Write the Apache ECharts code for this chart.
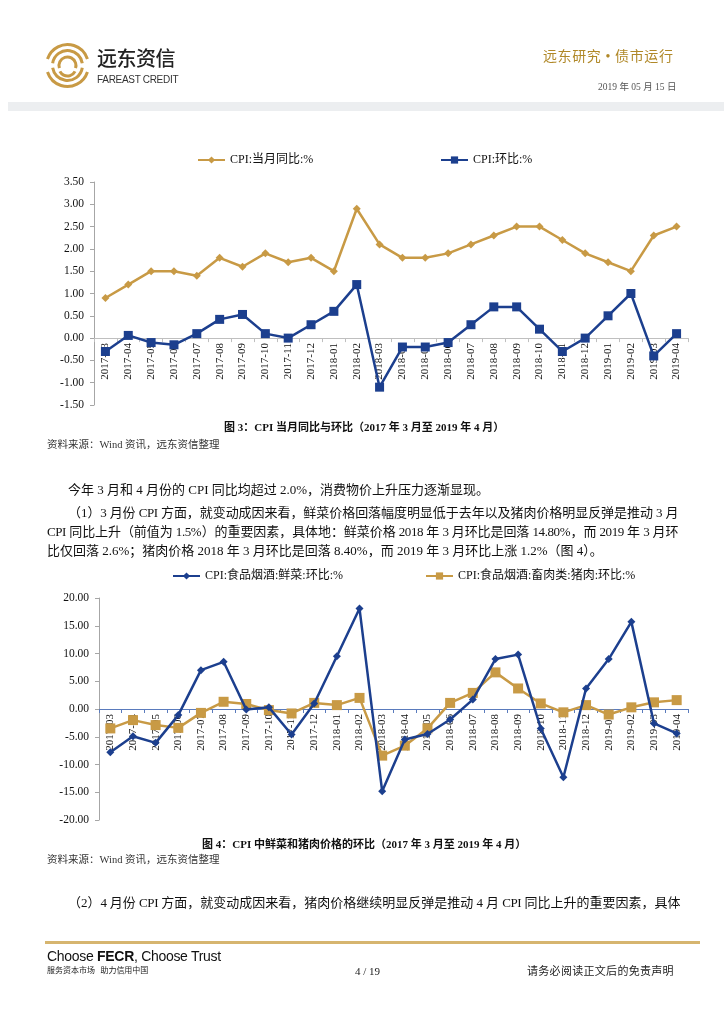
<!DOCTYPE html>
<html><head><meta charset="utf-8">
<script src="https://cdn.jsdelivr.net/npm/echarts@6/dist/echarts.min.js"></script>
<style>
html,body{margin:0;padding:0;background:#fff;}
#page{position:relative;width:724px;height:1024px;overflow:hidden;font-family:"Liberation Serif","Noto Sans CJK SC",serif;color:#111;}
#chart{position:absolute;left:0;top:0;width:724px;height:1024px;}
.t{position:absolute;white-space:nowrap;line-height:1;}
.j{text-align:justify;text-align-last:justify;white-space:normal;letter-spacing:-0.4px;height:14px;overflow:visible;}
</style></head>
<body><div id="page">
<div id="chart"></div>
<div style="position:absolute;left:8px;top:102px;width:716px;height:9px;background:#eceef0;"></div>
<div class="t" style="left:97px;top:48px;font-family:'Noto Sans CJK SC';font-size:20px;font-weight:500;color:#222;letter-spacing:-0.5px;">远东资信</div>
<div class="t" style="left:97px;top:75px;font-family:'Liberation Sans';font-size:10px;color:#333;letter-spacing:-0.3px;">FAREAST CREDIT</div>
<div class="t" style="left:543px;top:50px;font-size:14px;color:#b08828;letter-spacing:0.6px;">远东研究 • 债市运行</div>
<div class="t" style="left:598px;top:83px;font-size:9.5px;color:#555;">2019 年 05 月 15 日</div>

<div class="t" style="left:224px;top:422px;font-size:11px;font-weight:bold;">图 3：CPI 当月同比与环比（2017 年 3 月至 2019 年 4 月）</div>
<div class="t" style="left:47px;top:440px;font-size:10.5px;color:#333;">资料来源：Wind 资讯，远东资信整理</div>

<div class="t" style="left:68px;top:483px;font-size:13px;">今年 3 月和 4 月份的 CPI 同比均超过 2.0%，消费物价上升压力逐渐显现。</div>
<div class="t j" style="left:68px;top:506px;width:610px;font-size:13px;">（1）3 月份 CPI 方面，就变动成因来看，鲜菜价格回落幅度明显低于去年以及猪肉价格明显反弹是推动 3 月</div>
<div class="t j" style="left:47px;top:525px;width:631px;font-size:13px;">CPI 同比上升（前值为 1.5%）的重要因素，具体地：鲜菜价格 2018 年 3 月环比是回落 14.80%，而 2019 年 3 月环</div>
<div class="t" style="left:47px;top:544px;font-size:13px;">比仅回落 2.6%；猪肉价格 2018 年 3 月环比是回落 8.40%，而 2019 年 3 月环比上涨 1.2%（图 4）。</div>

<div class="t" style="left:202px;top:839px;font-size:11px;font-weight:bold;">图 4：CPI 中鲜菜和猪肉价格的环比（2017 年 3 月至 2019 年 4 月）</div>
<div class="t" style="left:47px;top:855px;font-size:10.5px;color:#333;">资料来源：Wind 资讯，远东资信整理</div>
<div class="t j" style="left:68px;top:896px;width:612px;font-size:13px;">（2）4 月份 CPI 方面，就变动成因来看，猪肉价格继续明显反弹是推动 4 月 CPI 同比上升的重要因素，具体</div>

<div style="position:absolute;left:45px;top:941px;width:655px;height:3px;background:#d6b56f;"></div>
<div class="t" style="left:47px;top:949px;font-family:'Liberation Sans';font-size:14px;color:#111;letter-spacing:-0.3px;">Choose <b>FECR</b>, Choose Trust</div>
<div class="t" style="left:47px;top:966px;font-family:'Noto Sans CJK SC';font-size:8px;color:#222;">服务资本市场&nbsp;&nbsp;&nbsp;助力信用中国</div>
<div class="t" style="left:355px;top:966px;font-size:11px;color:#222;">4 / 19</div>
<div class="t" style="left:527px;top:966px;font-size:11px;color:#222;letter-spacing:0.3px;">请务必阅读正文后的免责声明</div>
</div>
<script>
var categories = ['2017-03','2017-04','2017-05','2017-06','2017-07','2017-08','2017-09','2017-10','2017-11','2017-12',
  '2018-01','2018-02','2018-03','2018-04','2018-05','2018-06','2018-07','2018-08','2018-09','2018-10','2018-11','2018-12',
  '2019-01','2019-02','2019-03','2019-04'];
var cpiYoY = [0.9,1.2,1.5,1.5,1.4,1.8,1.6,1.9,1.7,1.8,1.5,2.9,2.1,1.8,1.8,1.9,2.1,2.3,2.5,2.5,2.2,1.9,1.7,1.5,2.3,2.5];
var cpiMoM = [-0.3,0.06,-0.1,-0.15,0.1,0.42,0.53,0.1,0.0,0.3,0.6,1.2,-1.1,-0.2,-0.2,-0.1,0.3,0.7,0.7,0.2,-0.3,0.0,0.5,1.0,-0.4,0.1];
var vegMoM = [-7.8,-4.9,-6.1,-1.1,7.0,8.5,-0.1,0.3,-4.6,1.0,9.5,18.1,-14.8,-5.5,-4.5,-1.9,1.7,9.0,9.8,-3.5,-12.3,3.7,9.0,15.7,-2.6,-4.4];
var porkMoM = [-3.5,-2.0,-2.9,-3.4,-0.7,1.3,0.9,-0.2,-0.8,1.1,0.7,2.0,-8.4,-6.6,-3.5,1.1,2.9,6.6,3.7,1.0,-0.6,0.7,-1.0,0.3,1.2,1.6];
var names = ['CPI:当月同比:%','CPI:环比:%','CPI:食品烟酒:鲜菜:环比:%','CPI:食品烟酒:畜肉类:猪肉:环比:%'];

var GOLD = '#c89a45', BLUE = '#1c3f8e';
var FONT = '"Liberation Serif","Noto Sans CJK SC",serif';
var chart = echarts.init(document.getElementById('chart'), null, {renderer:'canvas'});

var G1 = {left:94, right:36, top:182, height:223}, G2 = {left:99, right:36, top:598, height:222};
var Y1 = {min:-1.5, max:3.5, itv:0.5}, Y2 = {min:-20, max:20, itv:5};
function zeroOffset(g, y){ return -g.height * (0 - y.min) / (y.max - y.min); }

function xAx(gi, lineColor, off){
  return {type:'category', gridIndex:gi, data:categories, boundaryGap:true, position:'bottom', offset:off,
    axisLine:{onZero:false, lineStyle:{color:lineColor, width:1.2}},
    axisTick:{show:true, length:4, lineStyle:{color:lineColor}},
    axisLabel:{rotate:90, interval:0, margin:5, fontFamily:FONT, fontSize:11, color:'#111'},
    splitLine:{show:false}};
}
function yAx(gi, y){
  return {type:'value', gridIndex:gi, min:y.min, max:y.max, interval:y.itv,
    axisLine:{show:true, lineStyle:{color:'#a6a6a6'}},
    axisTick:{show:true, length:4, lineStyle:{color:'#a6a6a6'}},
    axisLabel:{margin:10, fontFamily:FONT, fontSize:11.5, color:'#111', formatter:function(v){return v.toFixed(2);}},
    splitLine:{show:false}};
}
function leg(name, left, top){
  return {data:[name], left:left, top:top, itemWidth:27, itemHeight:9, padding:0,
    textStyle:{fontFamily:FONT, fontSize:12, color:'#111'}};
}
function ser(name, data, xi, color, sym, size, z){
  return {name:name, type:'line', xAxisIndex:xi, yAxisIndex:xi, data:data, symbol:sym, symbolSize:size,
    lineStyle:{color:color, width:2.5}, itemStyle:{color:color}, z:z};
}

var option = {
  animation:false,
  legend:[leg(names[0],197,154), leg(names[1],440,154), leg(names[2],172,570), leg(names[3],425,570)],
  grid:[G1, G2],
  xAxis:[xAx(0,'#bfbfbf', zeroOffset(G1,Y1)), xAx(1,'#5a7bbd', zeroOffset(G2,Y2))],
  yAxis:[yAx(0,Y1), yAx(1,Y2)],
  series:[
    ser(names[0], cpiYoY, 0, GOLD, 'diamond', 8, 3),
    ser(names[1], cpiMoM, 0, BLUE, 'rect', 9, 4),
    ser(names[2], vegMoM, 1, BLUE, 'diamond', 8, 4),
    ser(names[3], porkMoM, 1, GOLD, 'rect', 10, 3)
  ],
  graphic:[
    {type:'group', left:45, top:42, children:[
      {type:'arc', shape:{cx:22, cy:22, r:21, startAngle:Math.PI*1.1, endAngle:Math.PI*1.9}, style:{stroke:'#c89a45', lineWidth:3, fill:null}},
      {type:'arc', shape:{cx:22, cy:22, r:21, startAngle:Math.PI*0.1, endAngle:Math.PI*0.9}, style:{stroke:'#c89a45', lineWidth:3, fill:null}},
      {type:'arc', shape:{cx:22, cy:22, r:15, startAngle:Math.PI*1.05, endAngle:Math.PI*1.95}, style:{stroke:'#c89a45', lineWidth:3, fill:null}},
      {type:'arc', shape:{cx:22, cy:22, r:15, startAngle:Math.PI*0.05, endAngle:Math.PI*0.95}, style:{stroke:'#c89a45', lineWidth:3, fill:null}},
      {type:'arc', shape:{cx:22, cy:22, r:8.5, startAngle:Math.PI*0.9, endAngle:Math.PI*2.1}, style:{stroke:'#c89a45', lineWidth:3, fill:null}},
      {type:'arc', shape:{cx:22, cy:24, r:8.5, startAngle:Math.PI*0.15, endAngle:Math.PI*0.85}, style:{stroke:'#c89a45', lineWidth:3, fill:null}}
    ]}
  ]
};
chart.setOption(option);
</script>
</body></html>
